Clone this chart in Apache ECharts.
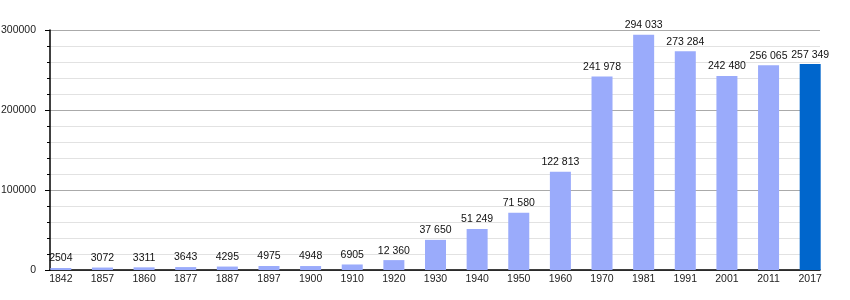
<!DOCTYPE html>
<html><head><meta charset="utf-8">
<script src="https://cdn.jsdelivr.net/npm/echarts@6/dist/echarts.min.js"></script>
<style>html,body{margin:0;padding:0;background:#fff}#c{width:850px;height:300px}</style>
</head><body><div id="c"></div>
<script>
const years = ['1842','1857','1860','1877','1887','1897','1900','1910','1920','1930','1940','1950','1960','1970','1981','1991','2001','2011','2017'];
const population = [2504,3072,3311,3643,4295,4975,4948,6905,12360,37650,51249,71580,122813,241978,294033,273284,242480,256065,257349];
const yTicks = [0,100000,200000,300000];
const lightColor = '#9aabfb';
const lastColor = '#0066cc';

function fmt(v){
  if (v < 10000) return String(v);
  return String(v).replace(/\B(?=(\d{3})+(?!\d))/g,' ');
}
const font = 'Liberation Sans, Arial, sans-serif';
const fs = 10.5;
const chart = echarts.init(document.getElementById('c'), null, {renderer:'canvas'});
chart.setOption({
  animation:false,
  grid:[
    {left:50, right:30, top:30, bottom:30, containLabel:false, outerBoundsMode:'none'},
    {left:40, right:19, top:30, bottom:30, containLabel:false, outerBoundsMode:'none'}
  ],
  xAxis:[
    {gridIndex:0, type:'value', min:0, max:1,
     axisLine:{show:true, onZero:false, lineStyle:{color:'#000', width:1.5}},
     axisTick:{show:false}, axisLabel:{show:false}, splitLine:{show:false}},
    {gridIndex:1, type:'category', data:years,
     axisLine:{show:false}, axisTick:{show:false},
     axisLabel:{color:'#222', fontSize:fs, fontFamily:font, margin:4}}
  ],
  yAxis:[
    {gridIndex:0, type:'value', min:yTicks[0], max:yTicks[yTicks.length-1], interval:100000,
     axisLine:{show:true, lineStyle:{color:'#000', width:1.5}},
     axisTick:{show:true, length:5, lineStyle:{color:'#000'}},
     minorTick:{show:true, splitNumber:5, length:3, lineStyle:{color:'#000'}},
     splitLine:{show:true, lineStyle:{color:'#aaaaaa', width:1}},
     minorSplitLine:{show:true, lineStyle:{color:'#e2e2e2', width:1}},
     axisLabel:{color:'#222', fontSize:fs, fontFamily:font, margin:14, formatter:v=>String(v)}},
    {gridIndex:1, type:'value', min:yTicks[0], max:yTicks[yTicks.length-1], show:false, splitLine:{show:false}}
  ],
  series:[{
    type:'bar', xAxisIndex:1, yAxisIndex:1, barWidth:21, z:5,
    data: population.map((v,i)=>({value:v, itemStyle:{color: i===population.length-1 ? lastColor : lightColor}})),
    label:{show:true, position:'top', distance:4, color:'#111', fontSize:fs, fontFamily:font,
      formatter:p=>fmt(p.value)}
  }]
});
</script></body></html>
